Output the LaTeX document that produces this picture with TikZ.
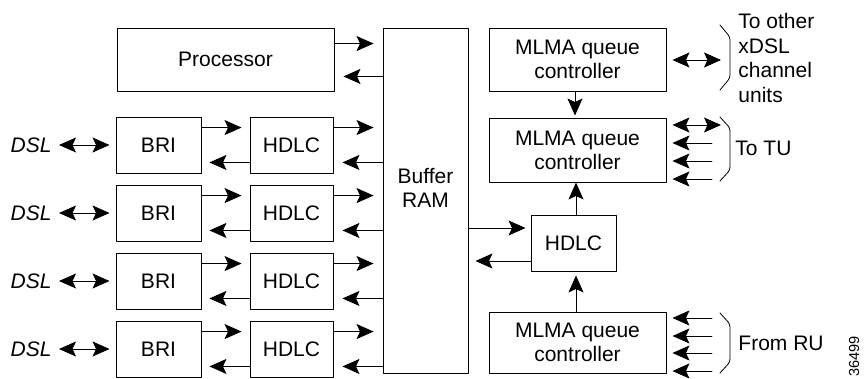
\documentclass[tikz,border=0pt]{standalone}
\usepackage{fontspec}
\setmainfont{Liberation Sans}
\usetikzlibrary{arrows.meta}
\tikzset{
  hd/.tip={Stealth[length=17pt,width=15pt,inset=3.5pt]},
  blk/.style={draw,line width=0.9pt,inner sep=0pt,align=center,
    font=\fontsize{21}{24}\selectfont},
  lbl/.style={inner sep=0pt,align=left,font=\fontsize{21}{24.5}\selectfont},
  brc/.style={line width=0.8pt,rounded corners=3pt},
  arr/.style={-hd},
  dbl/.style={hd-hd},
}
\begin{document}
\begin{tikzpicture}[line cap=round,line join=round,line width=0.9pt]
\begin{scope}[x=1pt,y=-1pt]
\useasboundingbox (0,0) rectangle (864,379);
% left column
\node[blk,minimum width=217,minimum height=63] (proc) at (225.5,59.5) {Processor};
\node[blk,minimum width=85,minimum height=345] (ram) at (425.5,200.5) {};
\node[blk,draw=none] (ramtxt) at ([yshift=13pt]ram.center) {Buffer\\RAM};
\draw[arr,shorten >=9pt] ([yshift=-16pt]proc.north east) -- ([yshift=-16pt]proc.north east -| ram.west);
\draw[arr,shorten >=9pt] ([yshift=15pt]proc.south east -| ram.west) -- ([yshift=15pt]proc.south east);
\foreach \i/\y in {1/145,2/213,3/281,4/349}{
  \node[blk,minimum width=85,minimum height=56] (bri\i) at (158.5,\y) {BRI};
  \node[blk,minimum width=83,minimum height=56] (hdlc\i) at (291.5,\y) {HDLC};
  \node[lbl,anchor=east,font=\fontsize{21}{24}\selectfont\itshape] (dsl\i) at (52,\y) {DSL};
  \draw[dbl,shorten <=7pt,shorten >=6pt] (dsl\i.east) -- (bri\i.west);
  \draw[arr,shorten >=8pt] ([yshift=-11pt]bri\i.north east) -- ([yshift=-11pt]hdlc\i.north west);
  \draw[arr,shorten >=8pt] ([yshift=11pt]hdlc\i.south west) -- ([yshift=11pt]bri\i.south east);
  \draw[arr,shorten >=9pt] ([yshift=-11pt]hdlc\i.north east) -- ([yshift=-11pt]hdlc\i.north east -| ram.west);
  \draw[arr,shorten >=9pt] ([yshift=11pt]hdlc\i.south east -| ram.west) -- ([yshift=11pt]hdlc\i.south east);
}
% right column
\node[blk,minimum width=177,minimum height=63] (mlma1) at (577.5,59.5) {MLMA queue\\controller};
\node[blk,minimum width=177,minimum height=64] (mlma2) at (577.5,150) {MLMA queue\\controller};
\node[blk,minimum width=85,minimum height=56] (hdlc5) at (573.5,243) {HDLC};
\node[blk,minimum width=177,minimum height=61] (mlma3) at (577.5,342.5) {MLMA queue\\controller};
\draw[arr,shorten >=2pt] (mlma1.south -| 575,0) -- (mlma2.north -| 575,0);
\draw[arr] (hdlc5.north -| 576,0) -- (mlma2.south -| 576,0);
\draw[arr,shorten >=4pt] (mlma3.north -| 576,0) -- (hdlc5.south -| 576,0);
\draw[arr,shorten >=5pt] (ram.east |- 0,228) -- (hdlc5.west |- 0,228);
\draw[arr,shorten >=7pt] (hdlc5.west |- 0,261) -- (ram.east |- 0,261);
% outside links
\coordinate (ext1) at (721,60);
\draw[dbl,shorten <=6pt] (mlma1.east |- ext1) -- (ext1);
\draw[brc] (720,25) -- (730,37) -- (730,78) -- (720,90);
\node[lbl,anchor=west] (other) at (738,58) {To other\\xDSL\\channel\\units};
\coordinate (ext2) at (721,125);
\draw[dbl,shorten <=6pt] (mlma2.east |- ext2) -- (ext2);
\foreach \y in {143,161,179}{
  \coordinate (tu\y) at (712,\y);
  \draw[arr,shorten >=6pt] (tu\y) -- (mlma2.east |- tu\y);
}
\draw[brc] (720,117) -- (730,128) -- (730,170) -- (720,181);
\node[lbl,anchor=west] (totu) at (735,148) {To TU};
\foreach \y in {318,336,353,371}{
  \coordinate (ru\y) at (712,\y);
  \draw[arr,shorten >=6pt] (ru\y) -- (mlma3.east |- ru\y);
}
\draw[brc] (720,313) -- (730,324) -- (730,362) -- (720,373);
\node[lbl,anchor=west] (fromru) at (738,343) {From RU};
\node[lbl,rotate=90,anchor=east,font=\fontsize{14.5}{15}\selectfont] (fig) at (854,336) {36499};
\end{scope}
\end{tikzpicture}
\end{document}
